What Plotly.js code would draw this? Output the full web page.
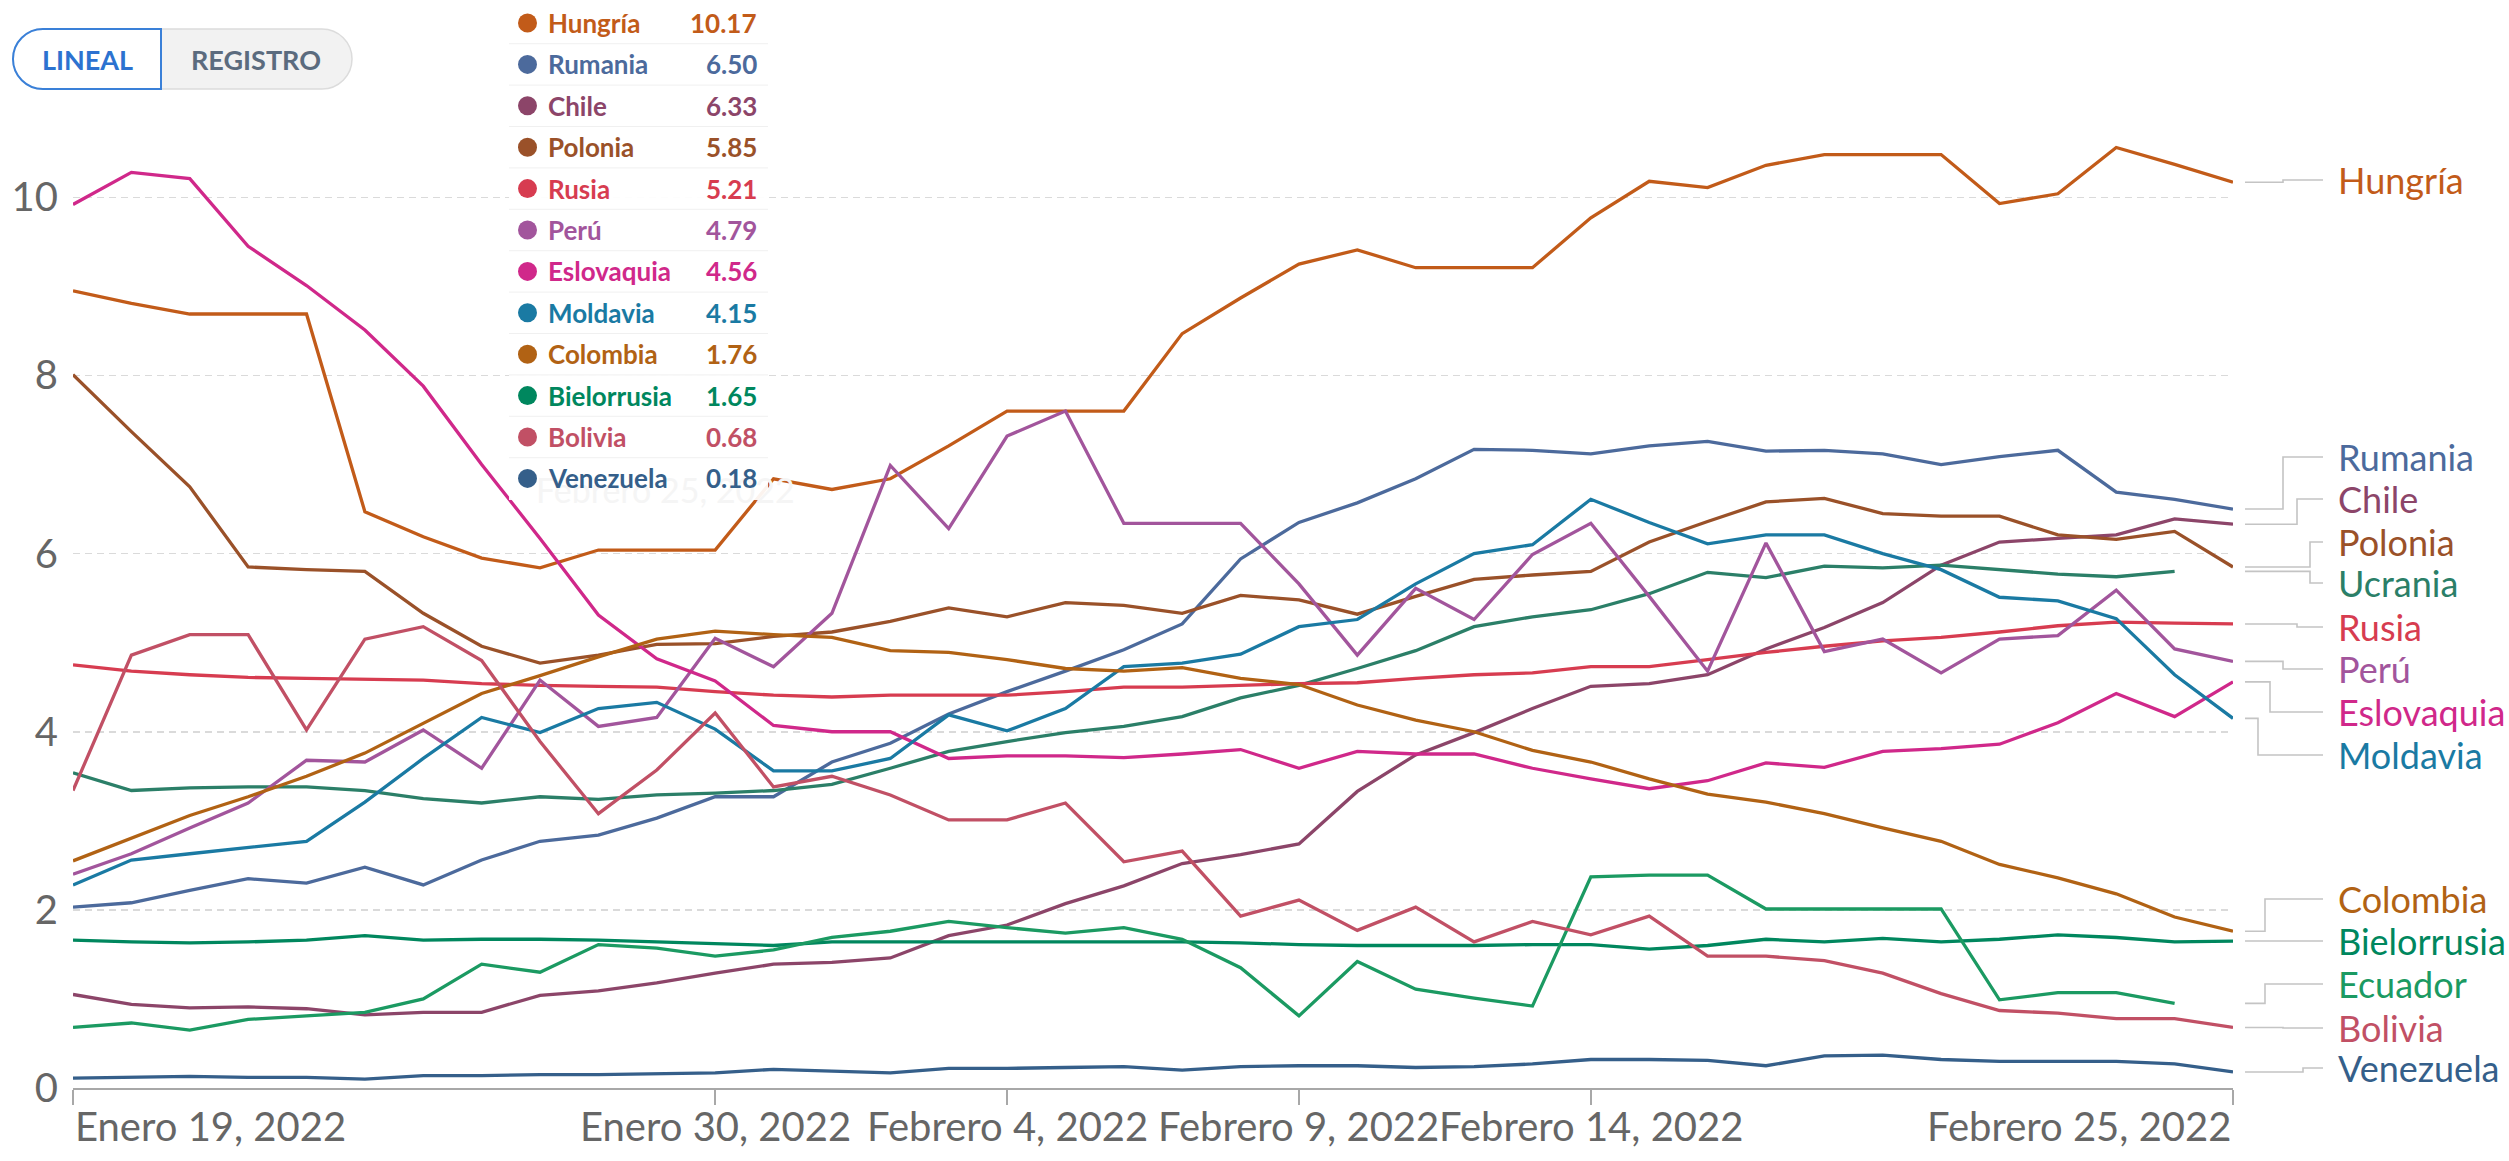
<!DOCTYPE html>
<html>
<head>
<meta charset="utf-8">
<script src="https://cdn.plot.ly/plotly-3.0.1.min.js"></script>
<style>
html,body{margin:0;padding:0;background:#fff;}
#chart{width:2509px;height:1161px;}
</style>
</head>
<body>
<div id="chart"></div>
<script>
// ---------------- DATA ----------------
const dates = [
  '2022-01-19','2022-01-20','2022-01-21','2022-01-22','2022-01-23','2022-01-24','2022-01-25',
  '2022-01-26','2022-01-27','2022-01-28','2022-01-29','2022-01-30','2022-01-31','2022-02-01',
  '2022-02-02','2022-02-03','2022-02-04','2022-02-05','2022-02-06','2022-02-07','2022-02-08',
  '2022-02-09','2022-02-10','2022-02-11','2022-02-12','2022-02-13','2022-02-14','2022-02-15',
  '2022-02-16','2022-02-17','2022-02-18','2022-02-19','2022-02-20','2022-02-21','2022-02-22',
  '2022-02-23','2022-02-24','2022-02-25'
];

const hungria = [8.95,8.81,8.69,8.69,8.69,6.47,6.19,5.95,5.84,6.04,6.04,6.04,6.84,6.72,6.84,7.21,7.6,7.6,7.6,8.47,8.87,9.25,9.41,9.21,9.21,9.21,9.77,10.18,10.11,10.36,10.48,10.48,10.48,9.93,10.04,10.56,10.37,10.17];
const rumania = [2.03,2.08,2.22,2.35,2.3,2.48,2.28,2.56,2.77,2.84,3.03,3.27,3.27,3.66,3.87,4.2,4.45,4.68,4.92,5.21,5.94,6.35,6.57,6.84,7.17,7.16,7.12,7.21,7.26,7.15,7.16,7.12,7.0,7.09,7.16,6.69,6.61,6.5];
const chile = [1.05,0.94,0.9,0.91,0.89,0.82,0.85,0.85,1.04,1.09,1.18,1.29,1.39,1.41,1.46,1.71,1.83,2.07,2.27,2.52,2.62,2.74,3.33,3.74,3.99,4.26,4.51,4.54,4.64,4.93,5.17,5.45,5.87,6.13,6.17,6.21,6.39,6.33];
const polonia = [8.01,7.37,6.75,5.85,5.82,5.8,5.33,4.96,4.77,4.86,4.98,4.99,5.07,5.12,5.24,5.39,5.29,5.45,5.42,5.33,5.53,5.48,5.32,5.52,5.71,5.76,5.8,6.13,6.36,6.58,6.62,6.45,6.42,6.42,6.21,6.16,6.25,5.85];
const ucrania = [3.54,3.34,3.37,3.38,3.38,3.34,3.25,3.2,3.27,3.24,3.29,3.31,3.34,3.41,3.59,3.78,3.89,3.99,4.06,4.17,4.38,4.52,4.71,4.91,5.18,5.29,5.37,5.55,5.79,5.73,5.86,5.84,5.87,5.82,5.77,5.74,5.8,null];
const rusia = [4.75,4.68,4.64,4.61,4.6,4.59,4.58,4.54,4.52,4.51,4.5,4.45,4.41,4.39,4.41,4.41,4.41,4.45,4.5,4.5,4.52,4.54,4.55,4.6,4.64,4.66,4.73,4.73,4.81,4.89,4.96,5.02,5.06,5.12,5.19,5.23,5.22,5.21];
const peru = [2.4,2.63,2.92,3.2,3.68,3.66,4.02,3.59,4.58,4.06,4.16,5.05,4.73,5.33,6.99,6.28,7.32,7.6,6.34,6.34,6.34,5.66,4.86,5.61,5.26,5.99,6.34,5.52,4.68,6.12,4.9,5.04,4.66,5.04,5.08,5.59,4.93,4.79];
const eslovaquia = [9.92,10.28,10.21,9.45,9.01,8.51,7.88,7.0,6.17,5.31,4.82,4.57,4.07,4.0,4.0,3.7,3.73,3.73,3.71,3.75,3.8,3.59,3.78,3.75,3.75,3.59,3.47,3.36,3.45,3.65,3.6,3.78,3.81,3.86,4.1,4.43,4.17,4.56];
const moldavia = [2.28,2.56,2.63,2.7,2.77,3.21,3.7,4.16,3.99,4.26,4.33,4.03,3.56,3.56,3.7,4.19,4.01,4.26,4.73,4.77,4.87,5.18,5.26,5.66,6.0,6.1,6.61,6.35,6.11,6.21,6.21,6.0,5.82,5.51,5.47,5.27,4.64,4.15];
const colombia = [2.55,2.81,3.06,3.27,3.5,3.76,4.09,4.43,4.63,4.84,5.04,5.13,5.09,5.06,4.91,4.89,4.81,4.71,4.68,4.72,4.6,4.53,4.3,4.13,4.0,3.79,3.66,3.47,3.3,3.21,3.08,2.92,2.77,2.51,2.36,2.18,1.92,1.76];
const bielorrusia = [1.66,1.64,1.63,1.64,1.66,1.71,1.66,1.67,1.67,1.66,1.64,1.62,1.6,1.64,1.64,1.64,1.64,1.64,1.64,1.64,1.63,1.61,1.6,1.6,1.6,1.61,1.61,1.56,1.6,1.67,1.64,1.68,1.64,1.67,1.72,1.69,1.64,1.65];
const ecuador = [0.68,0.73,0.65,0.77,0.81,0.85,1.0,1.39,1.3,1.61,1.57,1.48,1.55,1.69,1.76,1.87,1.8,1.74,1.8,1.67,1.35,0.81,1.42,1.11,1.01,0.92,2.37,2.39,2.39,2.01,2.01,2.01,2.01,0.99,1.07,1.07,0.95,null];
const bolivia = [3.34,4.86,5.09,5.09,4.02,5.04,5.18,4.8,3.89,3.08,3.57,4.21,3.38,3.5,3.29,3.01,3.01,3.2,2.54,2.66,1.93,2.11,1.77,2.03,1.64,1.87,1.72,1.93,1.48,1.48,1.43,1.29,1.06,0.87,0.84,0.78,0.78,0.68];
const venezuela = [0.11,0.12,0.13,0.12,0.12,0.1,0.14,0.14,0.15,0.15,0.16,0.17,0.21,0.19,0.17,0.22,0.22,0.23,0.24,0.2,0.24,0.25,0.25,0.23,0.24,0.27,0.32,0.32,0.31,0.25,0.36,0.37,0.32,0.3,0.3,0.3,0.27,0.18];

const xTickVals = ['2022-01-19','2022-01-30','2022-02-04','2022-02-09','2022-02-14','2022-02-25'];
const xTickText = ['Enero 19, 2022','Enero 30, 2022','Febrero 4, 2022','Febrero 9, 2022','Febrero 14, 2022','Febrero 25, 2022'];
const yTickVals = [0,2,4,6,8,10];

const tooltipTitle = 'Febrero 25, 2022';
const tooltipOrder = ['Hungría','Rumania','Chile','Polonia','Rusia','Perú','Eslovaquia','Moldavia','Colombia','Bielorrusia','Bolivia','Venezuela'];

// ---------------- STYLE / LAYOUT ----------------
const series = [
  {name:'Hungría',     y:hungria,     color:'#C25B19', labelPx:180,  elbow:2283},
  {name:'Rumania',     y:rumania,     color:'#4C6A9C', labelPx:457,  elbow:2283},
  {name:'Chile',       y:chile,       color:'#8C4569', labelPx:499,  elbow:2297},
  {name:'Polonia',     y:polonia,     color:'#9A5129', labelPx:542,  elbow:2310},
  {name:'Ucrania',     y:ucrania,     color:'#2B7F68', labelPx:583,  elbow:2310},
  {name:'Rusia',       y:rusia,       color:'#D73C50', labelPx:627,  elbow:2297},
  {name:'Perú',        y:peru,        color:'#A2559C', labelPx:669,  elbow:2283},
  {name:'Eslovaquia',  y:eslovaquia,  color:'#D0288A', labelPx:712,  elbow:2270},
  {name:'Moldavia',    y:moldavia,    color:'#1A7AA3', labelPx:755,  elbow:2258},
  {name:'Colombia',    y:colombia,    color:'#B16214', labelPx:899,  elbow:2265},
  {name:'Bielorrusia', y:bielorrusia, color:'#00875E', labelPx:941,  elbow:2265},
  {name:'Ecuador',     y:ecuador,     color:'#1B9A62', labelPx:984,  elbow:2265},
  {name:'Bolivia',     y:bolivia,     color:'#C15065', labelPx:1028, elbow:2283},
  {name:'Venezuela',   y:venezuela,   color:'#355F8A', labelPx:1068, elbow:2303}
];

const W = 2509, H = 1161, ML = 73, MR = 276, MT = 135, MB = 73;
const PW = W - ML - MR, PH = H - MT - MB;
const YMAX = 10.7;
const BASE = H - MB; // pixel y of value 0
function X(px){ return (px - ML) / PW; }
function Y(py){ return (BASE - py) / PH; }
function valPx(v){ return BASE - v * PH / YMAX; }
function P(px, py){ return X(px).toFixed(5) + ',' + Y(py).toFixed(5); }

function roundRectPath(x0, y0, x1, y1, rl, rr){
  const k = 0.5523;
  let d = 'M' + P(x0 + rl, y0);
  d += ' L' + P(x1 - rr, y0);
  if (rr > 0) d += ' C' + P(x1 - rr + k*rr, y0) + ' ' + P(x1, y0 + rr - k*rr) + ' ' + P(x1, y0 + rr);
  d += ' L' + P(x1, y1 - rr);
  if (rr > 0) d += ' C' + P(x1, y1 - rr + k*rr) + ' ' + P(x1 - rr + k*rr, y1) + ' ' + P(x1 - rr, y1);
  d += ' L' + P(x0 + rl, y1);
  if (rl > 0) d += ' C' + P(x0 + rl - k*rl, y1) + ' ' + P(x0, y1 - rl + k*rl) + ' ' + P(x0, y1 - rl);
  d += ' L' + P(x0, y0 + rl);
  if (rl > 0) d += ' C' + P(x0, y0 + rl - k*rl) + ' ' + P(x0 + rl - k*rl, y0) + ' ' + P(x0 + rl, y0);
  return d + ' Z';
}

const FONT = 'Lato, "Open Sans", sans-serif';

// ---------------- TRACES ----------------
const traces = series.map(s => ({
  x: dates, y: s.y, type: 'scatter', mode: 'lines', name: s.name,
  line: {color: s.color, width: 3.3, shape: 'linear'},
  connectgaps: false, hoverinfo: 'skip', showlegend: false
}));

// ---------------- SHAPES & ANNOTATIONS ----------------
const shapes = [];
const annotations = [];

function lastVal(arr){ for (let i = arr.length - 1; i >= 0; i--) if (arr[i] != null) return arr[i]; return null; }

// right-side labels with connectors
series.forEach(s => {
  const ePx = valPx(lastVal(s.y));
  const path = 'M' + P(2245, ePx) + ' L' + P(s.elbow, ePx) + ' L' + P(s.elbow, s.labelPx) + ' L' + P(2323, s.labelPx);
  shapes.push({type:'path', xref:'paper', yref:'paper', path: path, line:{color:'#c4c4c4', width:1.6}, layer:'above'});
  annotations.push({xref:'paper', yref:'paper', x: X(2336), y: Y(s.labelPx), xanchor:'left', yanchor:'middle',
    text: s.name, showarrow:false, font:{family:FONT, size:36, color:s.color}});
});

// x tick labels (first left-aligned, last right-aligned)
xTickVals.forEach((d, i) => {
  annotations.push({xref:'x', yref:'paper', x: d, y: Y(1126), yanchor:'middle',
    xanchor: i === 0 ? 'left' : (i === xTickVals.length - 1 ? 'right' : 'center'),
    text: xTickText[i], showarrow:false, font:{family:FONT, size:40, color:'#666666'}});
});

// tooltip box
const TX0 = 509, TX1 = 768, TY0 = 0, TY1 = 500;
// faint, almost hidden tooltip header seen behind the box
annotations.push({xref:'paper', yref:'paper', x: X(665), y: Y(489), xanchor:'center', yanchor:'middle',
  text: tooltipTitle, showarrow:false, font:{family:FONT, size:34, color:'#f5f5f5'}});
shapes.push({type:'rect', xref:'paper', yref:'paper', x0:X(TX0), x1:X(TX1), y0:Y(TY1), y1:Y(TY0),
  fillcolor:'rgba(255,255,255,0.93)', line:{width:0}, layer:'above'});
const rowH = 41.4, row0 = 23;
tooltipOrder.forEach((name, i) => {
  const s = series.find(q => q.name === name);
  const cy = row0 + rowH * i;
  if (i > 0) {
    shapes.push({type:'line', xref:'paper', yref:'paper', x0:X(TX0), x1:X(TX1), y0:Y(cy - rowH/2), y1:Y(cy - rowH/2),
      line:{color:'#f0f0f0', width:1}, layer:'above'});
  }
  shapes.push({type:'circle', xref:'paper', yref:'paper', x0:X(518), x1:X(537), y0:Y(cy + 9.5), y1:Y(cy - 9.5),
    fillcolor:s.color, line:{width:0}, layer:'above'});
  annotations.push({xref:'paper', yref:'paper', x:X(546), y:Y(cy), xanchor:'left', yanchor:'middle',
    text:'<b>' + name + '</b>', showarrow:false, font:{family:FONT, size:26, color:s.color}});
  annotations.push({xref:'paper', yref:'paper', x:X(759), y:Y(cy), xanchor:'right', yanchor:'middle',
    text:'<b>' + lastVal(s.y).toFixed(2) + '</b>', showarrow:false, font:{family:FONT, size:26, color:s.color}});
});

// LINEAL / REGISTRO toggle
shapes.push({type:'path', xref:'paper', yref:'paper', path: roundRectPath(13, 29, 352, 89, 30, 30),
  fillcolor:'#f2f2f2', line:{color:'#dcdcdc', width:1.5}, layer:'above'});
shapes.push({type:'path', xref:'paper', yref:'paper', path: roundRectPath(13, 29, 161, 89, 30, 0),
  fillcolor:'#ffffff', line:{color:'#3a80d8', width:2}, layer:'above'});
annotations.push({xref:'paper', yref:'paper', x:X(87), y:Y(60), xanchor:'center', yanchor:'middle',
  text:'<b>LINEAL</b>', showarrow:false, font:{family:FONT, size:27, color:'#2c72d0'}});
annotations.push({xref:'paper', yref:'paper', x:X(256), y:Y(60), xanchor:'center', yanchor:'middle',
  text:'<b>REGISTRO</b>', showarrow:false, font:{family:FONT, size:27, color:'#5b6b7e'}});

// ---------------- LAYOUT ----------------
const layout = {
  width: W, height: H,
  margin: {l: ML, r: MR, t: MT, b: MB, pad: 0},
  paper_bgcolor: '#ffffff', plot_bgcolor: '#ffffff',
  font: {family: FONT, color: '#666666'},
  showlegend: false,
  hovermode: false,
  xaxis: {
    type: 'date', range: [dates[0], dates[dates.length - 1]],
    showgrid: false, zeroline: false,
    showline: true, linecolor: '#a8a8a8', linewidth: 2,
    ticks: 'outside', ticklen: 15, tickwidth: 2, tickcolor: '#a8a8a8',
    tickmode: 'array', tickvals: xTickVals, showticklabels: false,
    fixedrange: true
  },
  yaxis: {
    range: [0, YMAX], tickmode: 'array', tickvals: yTickVals,
    ticktext: yTickVals.map(String),
    showgrid: true, gridcolor: '#dadada', gridwidth: 1.6, griddash: '7px,5px',
    zeroline: false, showline: false, ticks: '',
    ticklabelstandoff: 14,
    tickfont: {family: FONT, size: 40, color: '#666666'},
    fixedrange: true
  },
  shapes: shapes,
  annotations: annotations
};

Plotly.newPlot('chart', traces, layout, {displayModeBar: false, staticPlot: true, responsive: false});
</script>
</body>
</html>
